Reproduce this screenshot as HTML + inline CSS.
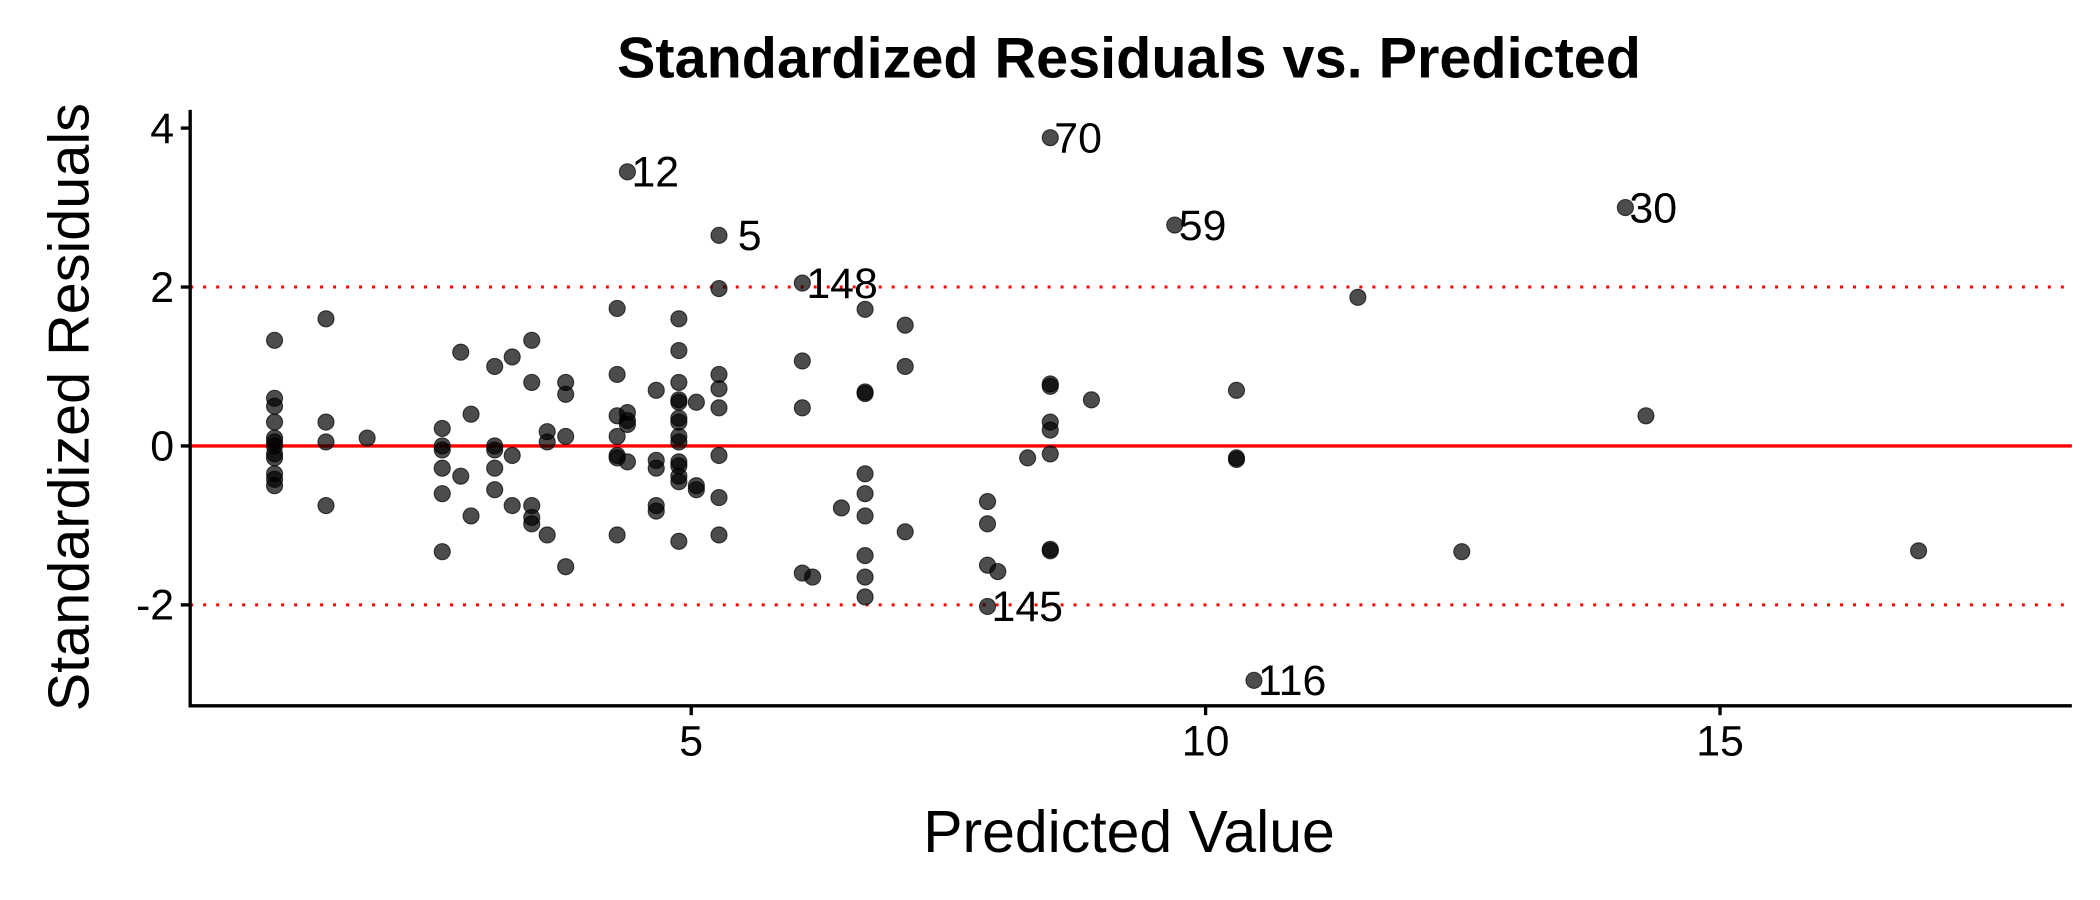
<!DOCTYPE html>
<html><head><meta charset="utf-8"><style>
html,body{margin:0;padding:0;background:#fff;}
svg{display:block;font-family:"Liberation Sans",Arial,sans-serif;}
</style></head><body>
<svg id="chart" width="2100" height="900" viewBox="0 0 1568 672">
<text x="843" y="58" text-anchor="middle" font-size="43" font-weight="bold">Standardized Residuals vs. Predicted</text>
<text x="843" y="636" text-anchor="middle" font-size="44">Predicted Value</text>
<text transform="translate(66,304) rotate(-90)" text-anchor="middle" font-size="43">Standardized Residuals</text>
<g id="plot"></g>
</svg>
<script>
const xs = [0.95,0.95,0.95,0.95,0.95,0.95,0.95,0.95,0.95,0.95,0.95,0.95,
1.45,1.45,1.45,1.45,1.85,
2.58,2.58,2.58,2.58,2.58,2.58,2.76,2.76,2.86,2.86,
3.09,3.09,3.09,3.09,3.09,3.26,3.26,3.26,
3.45,3.45,3.45,3.45,3.45,3.6,3.6,3.6,3.78,3.78,3.78,3.78,
4.28,4.28,4.28,4.28,4.28,4.28,4.28,4.38,4.38,4.38,4.38,4.38,
4.66,4.66,4.66,4.66,4.66,
4.88,4.88,4.88,4.88,4.88,4.88,4.88,4.88,4.88,4.88,4.88,4.88,4.88,4.88,
5.05,5.05,5.05,5.27,5.27,5.27,5.27,5.27,5.27,5.27,5.27,
6.08,6.08,6.08,6.08,6.18,6.46,
6.69,6.69,6.69,6.69,6.69,6.69,6.69,6.69,6.69,
7.08,7.08,7.08,7.88,7.88,7.88,7.88,7.98,8.27,
8.49,8.49,8.49,8.49,8.49,8.49,8.49,8.49,8.89,9.7,
10.3,10.3,10.3,10.47,11.48,12.49,14.08,14.28,16.93];
const ys = [1.33,0.6,0.5,0.3,0.1,0.05,0,-0.1,-0.15,-0.35,-0.42,-0.5,
1.6,0.3,0.05,-0.75,0.1,
0.22,0,-0.05,-0.28,-0.6,-1.33,1.18,-0.38,0.4,-0.88,
1.0,-0.05,-0.28,-0.55,0,1.12,-0.12,-0.75,
1.33,0.8,-0.75,-0.9,-0.98,0.18,0.05,-1.12,0.8,0.65,0.12,-1.52,
1.73,0.9,0.38,0.12,-0.12,-0.15,-1.12,3.45,0.42,0.32,0.27,-0.2,
0.7,-0.18,-0.28,-0.75,-0.82,
1.6,1.2,0.8,0.58,0.55,0.35,0.3,0.12,0.05,-0.2,-0.25,-0.38,-0.45,-1.2,
0.55,-0.5,-0.55,2.65,1.98,0.9,0.72,0.48,-0.12,-0.65,-1.12,
2.05,1.07,0.48,-1.6,-1.65,-0.78,
1.72,0.68,0.66,-0.35,-0.6,-0.88,-1.38,-1.65,-1.9,
1.52,1.0,-1.08,-0.7,-0.98,-1.5,-2.02,-1.58,-0.15,
3.88,0.78,0.75,0.3,0.2,-0.1,-1.3,-1.32,0.58,2.78,
0.7,-0.15,-0.17,-2.95,1.87,-1.33,3.0,0.38,-1.32];
const labelNames = ["12","5","148","70","59","30","145","116"];
const labelX = [4.38,5.27,6.08,8.49,9.7,14.08,7.88,10.47];
const labelY = [3.45,2.65,2.05,3.88,2.78,3.0,-2.02,-2.95];
const xTicks = [5,10,15];
const yTicks = [-2,0,2,4];
const refLines = [-2,2];

const X0=142, X1=1547, Y0=82, Y1=527;
const xmin=0.13, xmax=18.42, ymin=-3.27, ymax=4.23;
const sx = v => X0 + (v-xmin)/(xmax-xmin)*(X1-X0);
const sy = v => Y1 - (v-ymin)/(ymax-ymin)*(Y1-Y0);
const NS="http://www.w3.org/2000/svg";
const g=document.getElementById('plot');
function mk(t,a){const e=document.createElementNS(NS,t);for(const k in a)e.setAttribute(k,a[k]);g.appendChild(e);return e;}

refLines.forEach(v=>{
  const l=mk('line',{x1:X0,x2:X1,y1:sy(v),y2:sy(v),stroke:'#f00','stroke-width':2.2,'stroke-dasharray':'2.2,7.5'});
  
  
});
const z=mk('line',{x1:X0,x2:X1,y1:sy(0),y2:sy(0),stroke:'#f00','stroke-width':2.5});



xs.forEach((x,i)=>{
  const c=mk('circle',{cx:sx(x),cy:sy(ys[i]),r:6,fill:'#000','fill-opacity':0.7,stroke:'#000','stroke-opacity':0.7,'stroke-width':0.8});
  
  
});
labelNames.forEach((n,i)=>{
  const t=mk('text',{x:sx(labelX[i])+(n==="5"?14:3),y:sy(labelY[i])+11,'font-size':32});
  t.textContent=n;
  
  
});

const ax=mk('path',{d:`M${X0} ${Y0}V${Y1}H${X1}`,fill:'none',stroke:'#000','stroke-width':2.5});


xTicks.forEach(v=>{
  mk('line',{x1:sx(v),x2:sx(v),y1:Y1,y2:Y1+7,stroke:'#000','stroke-width':2.5});
  const t=mk('text',{x:sx(v),y:Y1+37,'text-anchor':'middle','font-size':32,fill:'#000'});
  t.textContent=v;
  
  
});
yTicks.forEach(v=>{
  mk('line',{x1:X0-7,x2:X0,y1:sy(v),y2:sy(v),stroke:'#000','stroke-width':2.5});
  const t=mk('text',{x:X0-12,y:sy(v)+11,'text-anchor':'end','font-size':32,fill:'#000'});
  t.textContent=v;
  
  
});
</script>
</body></html>
